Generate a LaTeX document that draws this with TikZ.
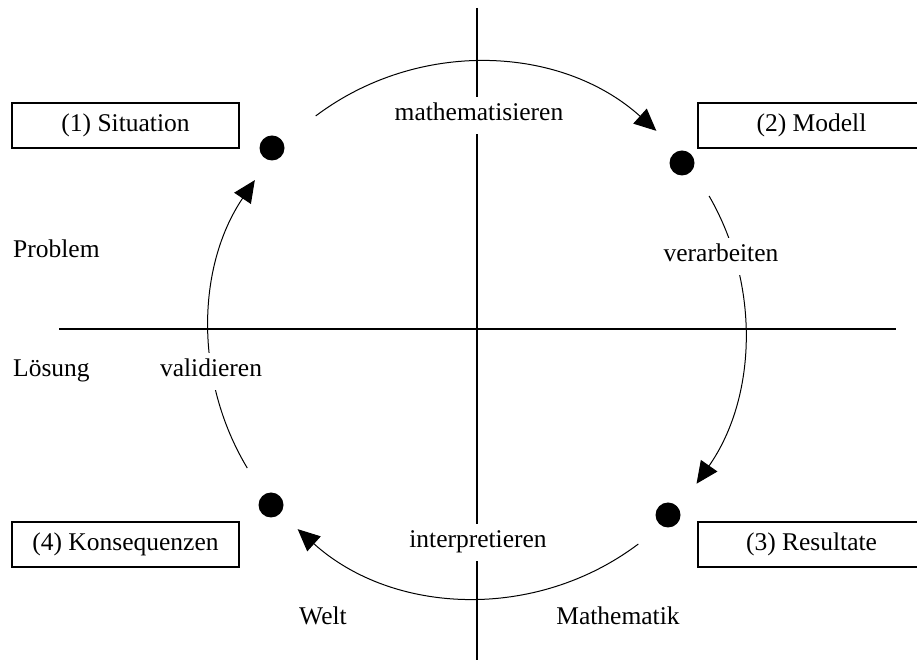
\documentclass[tikz,border=0pt]{standalone}
\usepackage{fontspec}
\setmainfont{Liberation Serif}
\usetikzlibrary{arrows.meta,calc}
\begin{document}
\begin{tikzpicture}[x=1pt,y=1pt,
  lbl/.style={font=\fontsize{25.5}{30}\selectfont, inner sep=0pt},
  cutlbl/.style={font=\fontsize{25.5}{30}\selectfont, fill=white, inner sep=6pt, text height=18pt, text depth=7pt},
  box/.style={draw, line width=1.2pt, minimum width=227pt, minimum height=45pt, inner sep=0pt, font=\fontsize{25.5}{30}\selectfont},
  dotnode/.style={circle, fill=black, minimum size=25pt, inner sep=0pt},
  axisline/.style={line width=1.2pt},
  cyc/.style={line width=1pt, -{Triangle[length=22pt,width=20pt]}}]
\useasboundingbox (0,0) rectangle (917,663);
\clip (0,0) rectangle (917,663);
% axes
\coordinate (C) at (477,333);
\coordinate (vtop) at (477,655);
\coordinate (vbot) at (477,3);
\coordinate (hl) at (59,334);
\coordinate (hr) at (896,334);
\draw[axisline] (vtop) -- (vbot);
\draw[axisline] (hl) -- (hr);
% boxes
\node[box] (s1) at (125.5,537.5) {(1) Situation};
\node[box] (s2) at (811.5,537.5) {(2) Modell};
\node[box] (s3) at (811.5,118.5) {(3) Resultate};
\node[box] (s4) at (125.5,118.5) {(4) Konsequenzen};
% dots
\node[dotnode] (d1) at (272,515) {};
\node[dotnode] (d2) at (682,500) {};
\node[dotnode] (d3) at (668,148) {};
\node[dotnode] (d4) at (271,158) {};
% cycle arcs
\draw[cyc] ($(C)+(127:268)$) arc[start angle=127, end angle=48, radius=268];
\draw[cyc] ($(C)+(30:268)$) arc[start angle=30, end angle=-35, radius=268];
\draw[cyc] ($(C)+(-53:268)$) arc[start angle=-53, end angle=-132, radius=268];
\draw[cyc] ($(C)+(211:268)$) arc[start angle=211, end angle=146, radius=268];
% labels on the lines
\node[cutlbl, anchor=base] (math) at (479,542) {mathematisieren};
\node[cutlbl, anchor=base] (interp) at (478,115) {interpretieren};
\node[cutlbl, anchor=base] (verarb) at (721,401) {verarbeiten};
\node[cutlbl, anchor=base] (valid) at (211,286) {validieren};
% other labels
\node[lbl, anchor=base west] (problem) at (13,405) {Problem};
\node[lbl, anchor=base west] (loesung) at (13,286) {Lösung};
\node[lbl, anchor=base] (welt) at (323,38) {Welt};
\node[lbl, anchor=base] (mathe) at (618,38) {Mathematik};
\end{tikzpicture}
\end{document}
